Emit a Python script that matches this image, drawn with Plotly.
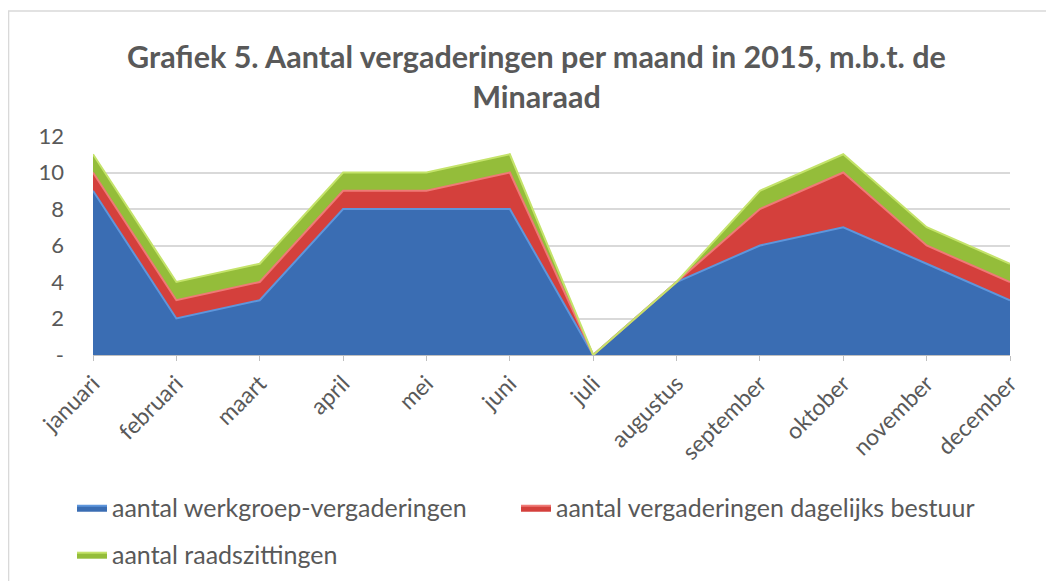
import plotly.graph_objects as go

months = ["januari", "februari", "maart", "april", "mei", "juni", "juli",
          "augustus", "september", "oktober", "november", "december"]
werkgroep = [9, 2, 3, 8, 8, 8, 0, 4, 6, 7, 5, 3]
bestuur = [1, 1, 1, 1, 1, 2, 0, 0, 2, 3, 1, 1]
raad = [1, 1, 1, 1, 1, 1, 0, 0, 1, 1, 1, 1]

y_ticks = [0, 2, 4, 6, 8, 10, 12]
y_text = ["-", "2", "4", "6", "8", "10", "12"]

FONT = "Lato, 'Open Sans', sans-serif"
TXT = "#595959"

fig = go.Figure()
series = [
    ("aantal werkgroep-vergaderingen", werkgroep, "#3a6db3", "#5e96dc", "legend"),
    ("aantal vergaderingen dagelijks bestuur", bestuur, "#d4403c", "#ef7a76", "legend3"),
    ("aantal raadszittingen", raad, "#94bd3a", "#c4e36a", "legend2"),
]
for name, vals, fill, edge, lg in series:
    fig.add_trace(go.Scatter(
        x=months, y=vals, name=name, stackgroup="one", mode="lines",
        line=dict(color=edge, width=2), fillcolor=fill, legend=lg,
    ))

legend_common = dict(
    orientation="h", xanchor="left", yanchor="middle",
    font=dict(family=FONT, size=25, color=TXT),
    traceorder="normal", bgcolor="rgba(0,0,0,0)",
)

fig.update_layout(
    width=1054, height=581,
    paper_bgcolor="white", plot_bgcolor="white",
    margin=dict(l=85, r=52, t=128, b=234),
    font=dict(family=FONT, color=TXT, size=22),
    title=dict(
        text="<b>Grafiek 5. Aantal vergaderingen per maand in 2015, m.b.t. de<br>Minaraad</b>",
        x=0.5014, xanchor="center", y=0.896, yanchor="middle",
        font=dict(family=FONT, size=30.5, color=TXT),
    ),
    showlegend=True,
    legend=dict(x=-0.0229, y=-0.6986, **legend_common),
    legend3=dict(x=0.4613, y=-0.6986, **legend_common),
    legend2=dict(x=-0.0229, y=-0.913, **legend_common),
    shapes=[dict(type="rect", xref="paper", yref="paper",
                 x0=-0.0921, x1=1.2, y0=-1.3, y1=1.5708,
                 line=dict(color="#d9d9d9", width=1.5), fillcolor="rgba(0,0,0,0)",
                 layer="below")],
)
fig.update_xaxes(
    range=[0, 11], tickangle=-45, showgrid=False,
    showline=True, linecolor="#bfbfbf", ticks="outside", tickcolor="#bfbfbf", ticklen=5,
    tickfont=dict(size=23, color=TXT),
)
fig.update_yaxes(
    range=[0, 12], tickvals=y_ticks, ticktext=y_text,
    showgrid=True, gridcolor="#d9d9d9", gridwidth=1.5, zeroline=False,
    tickfont=dict(size=22, color=TXT), ticks="", ticklabelstandoff=28,
)

fig.write_html("out.html")
